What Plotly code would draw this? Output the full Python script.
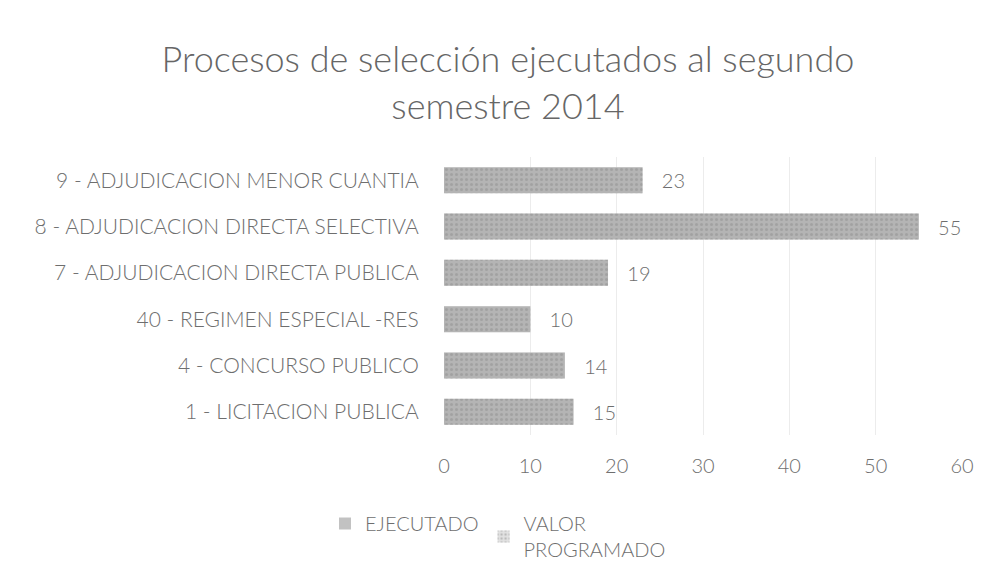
import plotly.graph_objects as go

categories = ["1 - LICITACION PUBLICA", "4 - CONCURSO PUBLICO", "40 - REGIMEN ESPECIAL -RES",
              "7 - ADJUDICACION DIRECTA PUBLICA", "8 - ADJUDICACION DIRECTA SELECTIVA",
              "9 - ADJUDICACION MENOR CUANTIA"]
ejecutado = [15, 14, 10, 19, 55, 23]
valor_programado = [15, 14, 10, 19, 55, 23]
x_ticks = [0, 10, 20, 30, 40, 50, 60]

grey_text = "#6e6e6e"
font_family = "Lato, 'Open Sans', sans-serif"

fig = go.Figure()
fig.add_trace(go.Bar(
    y=categories, x=ejecutado, orientation="h", name="EJECUTADO",
    marker=dict(color="#c2c2c2", line=dict(width=0)),
    width=0.56,
    text=["   " + str(v) for v in ejecutado], textposition="outside",
    textfont=dict(size=20, color=grey_text, weight=300), cliponaxis=False,
))
fig.add_trace(go.Bar(
    y=categories, x=valor_programado, orientation="h", name="VALOR<br>PROGRAMADO",
    marker=dict(color="rgba(140,140,140,0.25)", line=dict(width=0),
                pattern=dict(shape=".", fgcolor="#909090",
                             size=5, solidity=0.3, fillmode="overlay")),
    width=0.56,
))

fig.update_layout(
    width=992, height=583,
    barmode="overlay",
    paper_bgcolor="white", plot_bgcolor="white",
    margin=dict(l=436, r=38, t=149, b=156),
    font=dict(family=font_family, color=grey_text, size=20, weight=300),
    title=dict(text="Procesos de selección ejecutados al segundo<br>semestre 2014",
               x=0.504, xanchor="center", xref="container",
               y=1 - 64 / 583, yanchor="top", yref="container",
               font=dict(size=36, color="#666666", family=font_family, weight=300)),
    xaxis=dict(range=[0, 60], tickvals=x_ticks, showgrid=True, gridcolor="#ececec",
               zeroline=False, showline=False, ticks="outside", ticklen=13,
               tickcolor="rgba(0,0,0,0)", automargin=False,
               tickfont=dict(size=20, color=grey_text, weight=300)),
    yaxis=dict(showgrid=False, ticks="outside", ticklen=20, tickcolor="rgba(0,0,0,0)",
               automargin=False,
               tickfont=dict(size=21, color=grey_text, weight=300), showline=False),
    legend=dict(orientation="h", xref="container", yref="container",
                x=317 / 992, xanchor="left", y=1 - 496 / 583, yanchor="top",
                font=dict(size=20, color=grey_text, weight=300), traceorder="normal",
                itemwidth=30, tracegroupgap=0),
    showlegend=True,
)

fig.write_html("out.html")
